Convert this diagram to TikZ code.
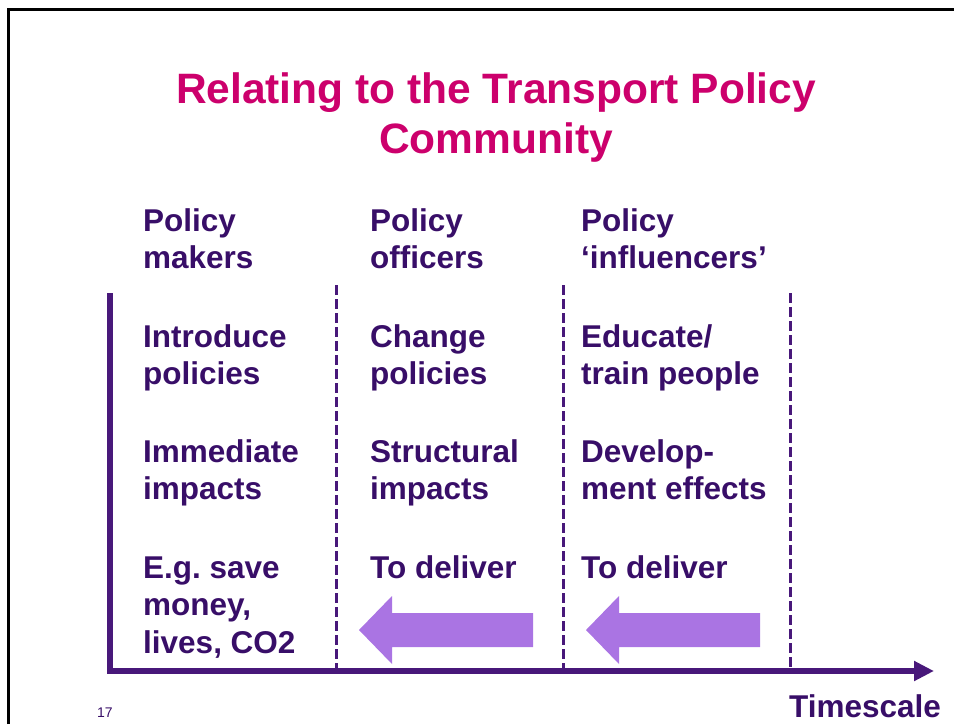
\documentclass[tikz,border=0pt]{standalone}
\usepackage{fontspec}
\setmainfont{Liberation Sans}
\usetikzlibrary{arrows.meta}
\frenchspacing
\definecolor{titlepink}{RGB}{204,0,108}
\definecolor{textpurple}{RGB}{56,14,104}
\definecolor{axispurple}{RGB}{72,24,122}
\definecolor{arrowlilac}{RGB}{170,116,227}
\tikzset{
  bodytext/.style={anchor=base west, inner sep=0pt, align=left, text=textpurple,
    font=\bfseries\fontsize{31.5}{37.5}\selectfont},
  divider/.style={axispurple, line width=3pt, dash pattern=on 10pt off 4pt},
  axis/.style={axispurple, line width=6pt, line join=miter}
}
\begin{document}
\begin{tikzpicture}[x=1pt, y=-1pt]
    \useasboundingbox (0,0) rectangle (954,724);
    \draw[line width=3pt] (8.5,724) -- (8.5,9.5) -- (954,9.5);
    % multi-line nodes sit on the baseline of their last line
    \node[anchor=base, inner sep=0pt, align=center, text=titlepink,
      font=\bfseries\fontsize{42.5}{50}\selectfont] (title) at (496,153)
      {Relating to the Transport Policy\\Community};
    % column headings
    \node[bodytext] (makers) at (143,268.5) {Policy\\makers};
    \node[bodytext] (officers) at (370,268.5) {Policy\\officers};
    \node[bodytext] (influencers) at (581,268.5) {Policy\\`influencers'};
    % first row
    \node[bodytext] (introduce) at (143,384.5) {Introduce\\policies};
    \node[bodytext] (change) at (370,384.5) {Change\\policies};
    \node[bodytext] (educate) at (581,384.5) {Educate/\\train people};
    % second row
    \node[bodytext] (immediate) at (143,499.5) {Immediate\\impacts};
    \node[bodytext] (structural) at (370,499.5) {Structural\\impacts};
    \node[bodytext] (develop) at (581,499.5) {Develop-\\ment effects};
    % third row
    \node[bodytext] (save) at (143,653) {E.g. save\\money,\\lives, CO2};
    \node[bodytext] (deliverA) at (370,578) {To deliver};
    \node[bodytext] (deliverB) at (581,578) {To deliver};
    % axes
    \coordinate (origin) at (109.5,671);
    \coordinate (ytop) at (109.5,293);
    \coordinate (xend) at (934,671);
    \draw[divider] (336,285) -- (336,671);
    \draw[divider] (563,285) -- (563,671);
    \draw[divider] (790,293) -- (790,671);
    \draw[axis, -{Triangle[length=20pt, width=19pt]}] (ytop) -- (origin) -- (xend);
    \node[bodytext] (timescale) at (789,717) {Timescale};
    \node[anchor=base west, inner sep=0pt, text=textpurple,
      font=\fontsize{14}{16}\selectfont] (page) at (97,717) {17};
    % block arrows
    \fill[arrowlilac] (359,630) -- (392,596) -- (392,613) -- (533,613) -- (533,647)
      -- (392,647) -- (392,664) -- cycle;
    \fill[arrowlilac] (586,630) -- (619,596) -- (619,613) -- (760,613) -- (760,647)
      -- (619,647) -- (619,664) -- cycle;
\end{tikzpicture}
\end{document}
